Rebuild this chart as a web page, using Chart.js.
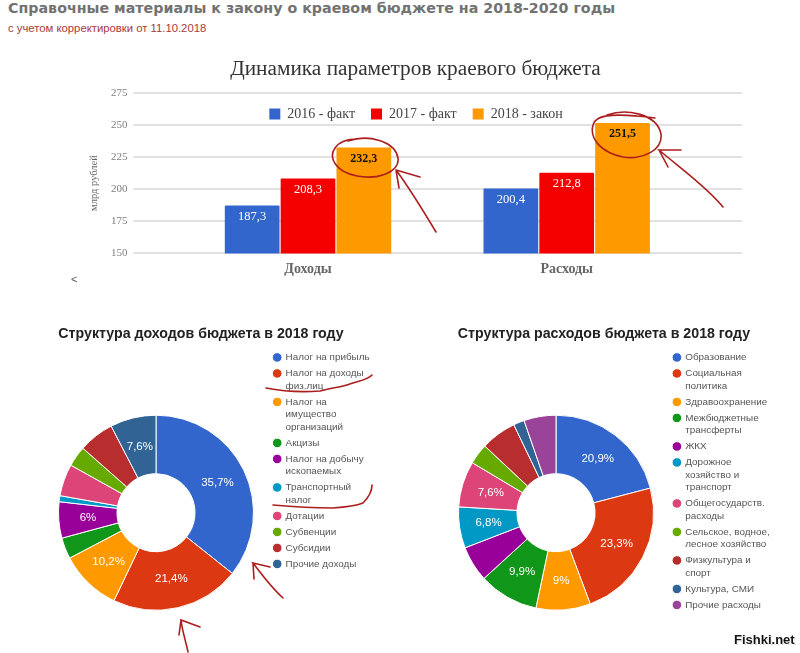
<!DOCTYPE html>
<html><head><meta charset="utf-8">
<style>
html,body{margin:0;padding:0;background:#fff;width:800px;height:653px;overflow:hidden}
canvas,.t,svg{position:absolute}
.t{white-space:nowrap}
#h1{left:8px;top:-1px;font:bold 14.25px "DejaVu Sans";color:#727272;line-height:18px}
#h2{left:8px;top:21px;font:11.3px "Liberation Sans";color:#a83a3a;line-height:14px}
#lt{left:71px;top:273px;font:11px "Liberation Sans";color:#555}
#wm{left:734px;top:632px;font:bold 13px "Liberation Sans";color:#111;text-shadow:1px 0 #fff,-1px 0 #fff,0 1px #fff,0 -1px #fff,1px 1px #bbb}
</style>
<script src="https://cdn.jsdelivr.net/npm/chart.js@4"></script>
</head><body>
<div class="t" id="h1">Справочные материалы к закону о краевом бюджете на 2018-2020 годы</div>
<div class="t" id="h2">с учетом корректировки от 11.10.2018</div>
<canvas id="bar" width="832" height="300" style="left:0;top:0"></canvas>
<div class="t" id="lt">&lt;</div>
<canvas id="d1" width="402" height="333" style="left:0;top:320px"></canvas>
<canvas id="d2" width="402" height="333" style="left:403px;top:320px"></canvas>
<div class="t" id="wm">Fishki.net</div>
<svg width="800" height="653" style="left:0;top:0" fill="none" stroke="#ac1e1e" stroke-width="1.6" stroke-linecap="round">
<path d="M348 141C368 134 395 141 398 158C400 172 378 180 357 176C336 172 328 158 335 148C339 142 348 139 358 139"/>
<path d="M436 232C424 212 408 186 396 170M396 170L420 177M396 170L399 188"/>
<path d="M607 115C627 108 657 114 661 134C663 150 643 160 623 157C603 153 589 140 593 125C595 116 607 112 655 118"/>
<path d="M723 207C706 186 680 168 659 150L681 150M659 150L668 167"/>
<path d="M283 598C272 588 262 575 253 563L270 567M253 563L254 579"/>
<path d="M188 652C186 642 182 630 181 620L200 627M181 620L179 635"/>
<path d="M266 388C286 392 306 392 320 391C332 388 345 386 347 385C358 381 368 380 372 375"/>
<path d="M273 505C295 507 315 508 333 508C348 507 358 505 363 503C368 498 372 492 372 485"/>
</svg>
<script>
const barCategories = ['Доходы', 'Расходы'];
const barYearLabels = ['2016 - факт', '2017 - факт', '2018 - закон'];
const values2016 = [187.3, 200.4];
const values2017 = [208.3, 212.8];
const values2018 = [232.3, 251.5];
const yTicks = [150, 175, 200, 225, 250, 275];

const incomeLabels = [['Налог на прибыль'], ['Налог на доходы', 'физ.лиц'], ['Налог на', 'имущество', 'организаций'], ['Акцизы'], ['Налог на добычу', 'ископаемых'], ['Транспортный', 'налог'], ['Дотации'], ['Субвенции'], ['Субсидии'], ['Прочие доходы']];
const incomeValues = [35.7, 21.4, 10.2, 3.5, 6, 1, 5.3, 3.4, 5.9, 7.6];
const expenseLabels = [['Образование'], ['Социальная', 'политика'], ['Здравоохранение'], ['Межбюджетные', 'трансферты'], ['ЖКХ'], ['Дорожное', 'хозяйство и', 'транспорт'], ['Общегосударств.', 'расходы'], ['Сельское, водное,', 'лесное хозяйство'], ['Физкультура и', 'спорт'], ['Культура, СМИ'], ['Прочие расходы']];
const expenseValues = [20.9, 23.3, 9, 9.9, 5.9, 6.8, 7.6, 3.4, 5.9, 1.8, 5.3];
const palette = ['#3366CC', '#DC3912', '#FF9900', '#109618', '#990099', '#0099C6', '#DD4477', '#66AA00', '#B82E2E', '#316395', '#994499'];

const comma = v => String(v).replace('.', ',');
Chart.defaults.animation = false;
Chart.defaults.responsive = false;
Chart.defaults.plugins.tooltip.enabled = false;

const barLayout = {
  id: 'barLayout',
  afterLayout(chart) {
    const t = chart.titleBlock, l = chart.legend;
    const dy = 69 - 27.1 - 12.6 - t.top;
    t.top += dy; t.bottom += dy;
    const tx = 415.5 - (t.left + t.right) / 2;
    t.left += tx; t.right += tx;
    const dx = 416 - (l.left + l.right) / 2;
    l.left += dx; l.right += dx;
    const ly = 91 - l.top;
    l.top += ly; l.bottom += ly;
  }
};
const barValues = {
  id: 'barValues',
  afterDatasetsDraw(chart) {
    const c = chart.ctx;
    c.save();
    c.textAlign = 'center'; c.textBaseline = 'middle';
    chart.data.datasets.forEach((ds, i) => {
      chart.getDatasetMeta(i).data.forEach((bar, j) => {
        const dark = i === 2;
        c.font = (dark ? 'bold 12px' : '12.5px') + ' "Liberation Serif"';
        c.fillStyle = dark ? '#111' : '#fff';
        c.fillText(comma(ds.data[j].y), bar.x, bar.y + 11.5);
      });
    });
    c.translate(94, 183);
    c.rotate(-Math.PI / 2);
    c.font = '10.5px "Liberation Serif"';
    c.fillStyle = '#666';
    c.fillText('млрд рублей', 0, 0);
    c.restore();
  }
};
const toPoints = arr => arr.map((y, x) => ({x, y}));
new Chart(document.getElementById('bar'), {
  type: 'bar',
  data: {
    datasets: [
      {label: barYearLabels[0], data: toPoints(values2016), backgroundColor: palette[0]},
      {label: barYearLabels[1], data: toPoints(values2017), backgroundColor: '#F40000'},
      {label: barYearLabels[2], data: toPoints(values2018), backgroundColor: palette[2]}
    ]
  },
  options: {
    layout: {padding: {left: 86, right: 90, bottom: 0, top: 0}},
    datasets: {bar: {categoryPercentage: 0.6475, barPercentage: 0.98, borderRadius: 1}},
    plugins: {
      title: {display: true, text: 'Динамика параметров краевого бюджета', color: '#333',
        font: {family: 'Liberation Serif', size: 21.3, weight: 'normal'}, padding: {top: 27.1, bottom: 0}},
      legend: {position: 'top', labels: {boxWidth: 11, boxHeight: 11, padding: 16, color: '#444',
        font: {family: 'Liberation Serif', size: 14}}}
    },
    scales: {
      x: {type: 'linear', offset: false, min: -0.6765, max: 1.6776, border: {display: false},
        grid: {display: false},
        afterBuildTicks(s) { s.ticks = barCategories.map((_, i) => ({value: i})); },
        afterFit(s) { s.height = 46.6; },
        ticks: {autoSkip: false, maxRotation: 0, padding: 0, color: '#666',
          font: {family: 'Liberation Serif', size: 14, weight: 'bold'},
          callback: v => barCategories[v]}
      },
      y: {min: 150, max: 275, border: {display: false},
        afterBuildTicks(s) { s.ticks = yTicks.map(value => ({value})); },
        afterFit(s) { s.width = 47; },
        grid: {color: '#e2e2e2', lineWidth: 2, drawTicks: false},
        ticks: {padding: 5.5, color: '#808080', font: {family: 'Liberation Serif', size: 11}}
      }
    }
  },
  plugins: [barLayout, barValues]
});

function donut(id, title, labels, values, centerX, circleX) {
  const size = 196;
  const place = {
    id: 'place',
    afterLayout(chart) {
      Object.assign(chart.chartArea, {left: centerX - size / 2, right: centerX + size / 2, top: 94.7, bottom: 94.7 + size, width: size, height: size});
      const l = chart.legend, dx = circleX - 3.2 - 3.5 - l.left, dy = 29 - l.top;
      l.left += dx; l.right += dx; l.top += dy; l.bottom += dy;
    }
  };
  const sliceValues = {
    id: 'sliceValues',
    afterDatasetsDraw(chart) {
      const c = chart.ctx;
      c.save();
      c.textAlign = 'center'; c.textBaseline = 'middle';
      c.font = '11.5px "Liberation Sans"'; c.fillStyle = '#fff';
      chart.getDatasetMeta(0).data.forEach((arc, i) => {
        if (values[i] < 6) return;
        const p = arc.tooltipPosition();
        c.fillText(comma(values[i]) + '%', p.x, p.y);
      });
      c.restore();
    }
  };
  new Chart(document.getElementById(id), {
    type: 'doughnut',
    data: {labels, datasets: [{data: values, backgroundColor: palette.slice(0, values.length), borderColor: '#fff', borderWidth: 1}]},
    options: {
      cutout: '40%',
      plugins: {
        title: {display: true, text: title, color: '#222', font: {family: 'Liberation Sans', size: 14.2, weight: 'bold'}, padding: {top: 6, bottom: 4}},
        legend: {position: 'right', align: 'start', labels: {usePointStyle: true, pointStyle: 'circle', boxHeight: 6.8, boxWidth: 6.8, padding: 3.5, color: '#555',
          font: {family: 'Liberation Sans', size: 9.9, lineHeight: '12.5px'}}}
      }
    },
    plugins: [place, sliceValues]
  });
}
donut('d1', 'Структура доходов бюджета в 2018 году', incomeLabels, incomeValues, 156, 277);
donut('d2', 'Структура расходов бюджета в 2018 году', expenseLabels, expenseValues, 153, 273.7);
</script>
</body></html>
